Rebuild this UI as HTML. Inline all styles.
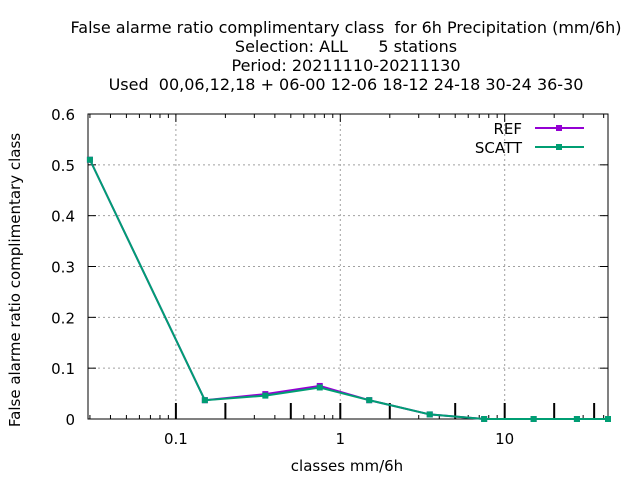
<!DOCTYPE html>
<html><head><meta charset="utf-8"><style>
body{margin:0;background:#fff}
svg text{font-family:"DejaVu Sans","Liberation Sans",sans-serif;fill:#000;white-space:pre}
</style></head><body>
<svg width="640" height="480" viewBox="0 0 640 480" xml:space="preserve">
<g font-size="16" text-anchor="middle">
<text x="346" y="33">False alarme ratio complimentary class  for 6h Precipitation (mm/6h)</text>
<text x="346" y="52">Selection: ALL      5 stations</text>
<text x="346" y="71">Period: 20211110-20211130</text>
<text x="346" y="90">Used  00,06,12,18 + 06-00 12-06 18-12 24-18 30-24 36-30</text>
</g>
<g id="grid"></g>
<g id="axes"></g>
<g id="series"></g>
<text x="347" y="471" font-size="15" text-anchor="middle">classes mm/6h</text>
<text transform="translate(20,280) rotate(-90)" font-size="15" text-anchor="middle">False alarme ratio complimentary class</text>
<g font-size="15" text-anchor="end">
<g><text x="522" y="134">REF</text>
<line x1="535" y1="128" x2="584" y2="128" stroke="#9400d3" stroke-width="2"/><rect x="556" y="125" width="6" height="6" fill="#9400d3"/></g>
<g><text x="522" y="153">SCATT</text>
<line x1="535" y1="147" x2="584" y2="147" stroke="#009e73" stroke-width="2"/><rect x="556" y="144" width="6" height="6" fill="#009e73"/></g>
</g>
</svg>
<script>
const classes=[0.03,0.15,0.35,0.75,1.5,3.5,7.5,15,27.5,42.5];
const refValues=[0.51,0.037,0.049,0.065,0.037,0.009,0,0,0,0];
const scattValues=[0.51,0.037,0.046,0.062,0.037,0.009,0,0,0,0];
const yTicks=[0,0.1,0.2,0.3,0.4,0.5,0.6];
const xTickLabels=[0.1,1,10];
const boundaryTicks=[0.1,0.2,0.5,1,2,5,10,20,35];
const L=88,R=608,T=114,B=419,xmin=0.0292,xmax=42.5,ymax=0.6;
const NS='http://www.w3.org/2000/svg';
const X=v=>L+(Math.log10(v)-Math.log10(xmin))/(Math.log10(xmax)-Math.log10(xmin))*(R-L);
const Y=v=>B-v/ymax*(B-T);
function mk(p,t,a){const e=document.createElementNS(NS,t);for(const k in a)e.setAttribute(k,a[k]);p.appendChild(e);return e;}
const grid=document.getElementById('grid'),axes=document.getElementById('axes'),ser=document.getElementById('series');
yTicks.forEach(v=>{
 if(v>0&&v<ymax){const g=mk(grid,'line',{x1:L,x2:R,y1:Y(v),y2:Y(v),stroke:'#a0a0a0','stroke-dasharray':'2,3'});
 
 }
 const t=mk(axes,'text',{x:L-13,y:Y(v)+6,'font-size':15,'text-anchor':'end'});t.textContent=String(v);
 
 
 mk(axes,'line',{x1:L,x2:L+8,y1:Y(v),y2:Y(v),stroke:'#000'});
 mk(axes,'line',{x1:R,x2:R-8,y1:Y(v),y2:Y(v),stroke:'#000'});
});
xTickLabels.forEach(v=>{
 const g=mk(grid,'line',{x1:X(v),x2:X(v),y1:T,y2:B,stroke:'#a0a0a0','stroke-dasharray':'2,3'});
 
 
 const t=mk(axes,'text',{x:X(v),y:444,'font-size':15,'text-anchor':'middle'});t.textContent=String(v);
 
 
});
for(let d=-2;d<=1;d++)for(let m=2;m<=9;m++){const v=m*Math.pow(10,d);if(v<xmin||v>xmax)continue;
 mk(axes,'line',{x1:X(v),x2:X(v),y1:B,y2:B-4,stroke:'#000'});mk(axes,'line',{x1:X(v),x2:X(v),y1:T,y2:T+4,stroke:'#000'});}
[0.1,1,10].forEach(v=>{mk(axes,'line',{x1:X(v),x2:X(v),y1:T,y2:T+8,stroke:'#000'});});
boundaryTicks.forEach(v=>{const l=mk(axes,'line',{x1:X(v),x2:X(v),y1:B,y2:B-16,stroke:'#000','stroke-width':2});
 
 });
const fr=mk(axes,'rect',{x:L,y:T,width:R-L,height:B-T,fill:'none',stroke:'#000'});


function series(vals,col,name){
 const pl=mk(ser,'polyline',{points:vals.map((v,i)=>X(classes[i])+','+Y(v)).join(' '),fill:'none',stroke:col,'stroke-width':2});
 
 
 vals.forEach((v,i)=>{const p=mk(ser,'rect',{x:X(classes[i])-3,y:Y(v)-3,width:6,height:6,fill:col});
  
  });
}
series(refValues,'#9400d3','ref');
series(scattValues,'#009e73','scatt');
</script>
</body></html>
